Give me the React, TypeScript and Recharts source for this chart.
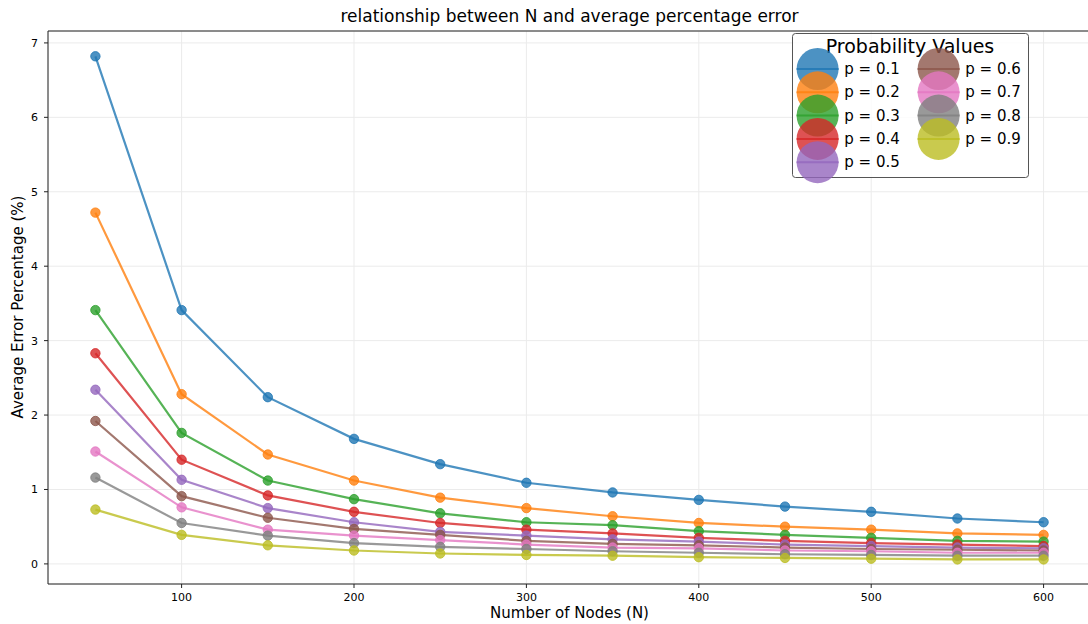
import { CartesianGrid, Label, Legend, Line, LineChart, XAxis, YAxis } from "recharts";

const nodes = [50, 100, 150, 200, 250, 300, 350, 400, 450, 500, 550, 600];

const p01 = [6.82, 3.41, 2.24, 1.68, 1.34, 1.09, 0.96, 0.86, 0.77, 0.7, 0.61, 0.56];
const p02 = [4.72, 2.28, 1.47, 1.12, 0.89, 0.75, 0.64, 0.55, 0.5, 0.46, 0.41, 0.39];
const p03 = [3.41, 1.76, 1.12, 0.87, 0.68, 0.56, 0.52, 0.44, 0.39, 0.35, 0.31, 0.3];
const p04 = [2.83, 1.4, 0.92, 0.7, 0.55, 0.46, 0.41, 0.35, 0.31, 0.28, 0.26, 0.24];
const p05 = [2.34, 1.13, 0.75, 0.56, 0.43, 0.38, 0.33, 0.3, 0.26, 0.24, 0.22, 0.21];
const p06 = [1.92, 0.91, 0.62, 0.47, 0.39, 0.31, 0.27, 0.25, 0.22, 0.2, 0.19, 0.18];
const p07 = [1.51, 0.76, 0.46, 0.38, 0.32, 0.26, 0.22, 0.21, 0.18, 0.17, 0.15, 0.15];
const p08 = [1.16, 0.55, 0.38, 0.28, 0.23, 0.2, 0.17, 0.15, 0.13, 0.12, 0.11, 0.11];
const p09 = [0.73, 0.39, 0.25, 0.18, 0.14, 0.12, 0.11, 0.09, 0.08, 0.07, 0.06, 0.06];

const series = [
  { key: "p1", name: "p = 0.1", values: p01, color: "#1f77b4" },
  { key: "p2", name: "p = 0.2", values: p02, color: "#ff7f0e" },
  { key: "p3", name: "p = 0.3", values: p03, color: "#2ca02c" },
  { key: "p4", name: "p = 0.4", values: p04, color: "#d62728" },
  { key: "p5", name: "p = 0.5", values: p05, color: "#9467bd" },
  { key: "p6", name: "p = 0.6", values: p06, color: "#8c564b" },
  { key: "p7", name: "p = 0.7", values: p07, color: "#e377c2" },
  { key: "p8", name: "p = 0.8", values: p08, color: "#7f7f7f" },
  { key: "p9", name: "p = 0.9", values: p09, color: "#bcbd22" }
];

const xTicks = [100, 200, 300, 400, 500, 600];
const yTicks = [0, 1, 2, 3, 4, 5, 6, 7];

const FONT = "'DejaVu Sans', sans-serif";

const rows = nodes.map((n, i) => {
  const row: Record<string, number> = { n };
  series.forEach((s) => {
    row[s.key] = s.values[i];
  });
  return row;
});

function ProbabilityLegend() {
  return (
    <svg width={240} height={148} style={{ display: "block", overflow: "visible", fontFamily: FONT }}>
      <rect x={0.5} y={0.5} width={236} height={144} rx={3} fill="rgba(255,255,255,0.8)" stroke="#555" />
      <text x={118} y={19.5} textAnchor="middle" fontSize={19} fill="#000">
        Probability Values
      </text>
      {series.map((s, i) => {
        const col = Math.floor(i / 5);
        const cx = 25.6 + col * 121;
        const cy = 36 + (i % 5) * 23.3;
        return (
          <g key={s.key}>
            <circle cx={cx} cy={cy} r={21} fill={s.color} fillOpacity={0.8} />
            <line x1={cx - 21} x2={cx + 21} y1={cy} y2={cy} stroke={s.color} strokeWidth={2} strokeOpacity={0.8} />
            <text x={cx + 26.7} y={cy} dominantBaseline="central" fontSize={15} fill="#000">
              {s.name}
            </text>
          </g>
        );
      })}
    </svg>
  );
}

export default function App() {
  return (
    <div style={{ position: "relative", width: 1088, height: 624, overflow: "hidden", background: "#fff", fontFamily: FONT }}>
      <style>{`body { margin: 0; }`}</style>
      <div style={{ position: "absolute", top: 6, left: 48, width: 1043, textAlign: "center", fontSize: 17, lineHeight: "20px", color: "#000", zIndex: 2 }}>
        relationship between N and average percentage error
      </div>
      <LineChart width={1092} height={624} data={rows} margin={{ top: 30, right: 1, bottom: 0, left: 0 }}>
        <CartesianGrid stroke="#ebebeb" strokeWidth={1} />
        <XAxis
          dataKey="n"
          type="number"
          domain={[22.5, 627.5]}
          ticks={xTicks}
          height={40}
          tickSize={4}
          tickMargin={5}
          tick={{ fontSize: 11, fill: "#000", fontFamily: FONT }}
          axisLine={{ stroke: "#222" }}
          tickLine={{ stroke: "#222" }}
          allowDataOverflow
        >
          <Label value="Number of Nodes (N)" position="insideBottom" offset={6} style={{ fontSize: 15, fill: "#000", fontFamily: FONT }} />
        </XAxis>
        <XAxis
          xAxisId="top"
          orientation="top"
          type="number"
          domain={[22.5, 627.5]}
          height={1}
          tick={false}
          tickLine={false}
          axisLine={{ stroke: "#222" }}
        />
        <YAxis
          type="number"
          domain={[-0.27, 7.16]}
          ticks={yTicks}
          width={48}
          tickSize={4}
          tickMargin={6}
          tick={{ fontSize: 11, fill: "#000", fontFamily: FONT }}
          axisLine={{ stroke: "#222" }}
          tickLine={{ stroke: "#222" }}
          allowDataOverflow
        >
          <Label
            content={() => (
              <text x={18} y={307} transform="rotate(-90 18 307)" textAnchor="middle" dominantBaseline="central" fontSize={15} fill="#000" fontFamily={FONT}>
                Average Error Percentage (%)
              </text>
            )}
          />
        </YAxis>
        <Legend
          layout="horizontal"
          verticalAlign="middle"
          align="center"
          content={() => <ProbabilityLegend />}
          wrapperStyle={{ position: "absolute", left: 792, top: 33, width: 240, height: 148 }}
        />
        {series.map((s) => (
          <Line
            key={s.key}
            dataKey={s.key}
            name={s.name}
            type="linear"
            stroke={s.color}
            strokeWidth={2.2}
            strokeOpacity={0.8}
            dot={{ r: 4.7, fill: s.color, fillOpacity: 0.8, stroke: s.color, strokeOpacity: 0.8, strokeWidth: 1 }}
            activeDot={false}
            isAnimationActive={false}
          />
        ))}
      </LineChart>
    </div>
  );
}
